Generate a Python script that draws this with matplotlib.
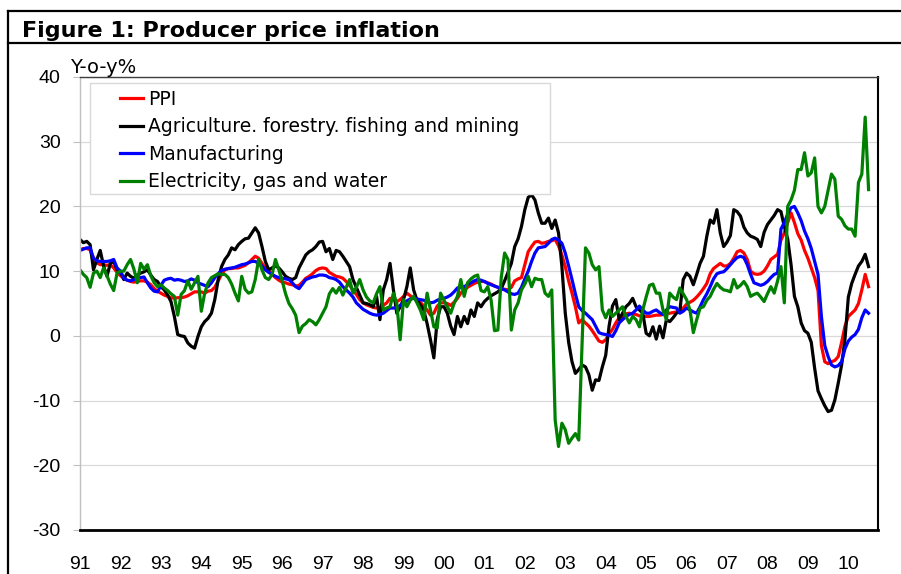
import numpy as np
import matplotlib
matplotlib.use("Agg")
import matplotlib.pyplot as plt
from matplotlib.lines import Line2D
from matplotlib.patches import Rectangle

plt.rcParams['font.family'] = ['Liberation Sans', 'DejaVu Sans']
plt.rcParams['axes.unicode_minus'] = False

# monthly y-o-y %, Jan 1991 - Jul 2010
ppi = [
    13.3, 13.5, 13.5, 13.3, 12.0, 11.3, 11.0, 11.0, 10.9, 11.0, 10.5, 9.8,
    9.3, 8.9, 8.6, 8.4, 8.3, 8.4, 8.5, 8.5, 8.3, 7.9, 7.3, 6.9,
    6.6, 6.3, 6.1, 5.9, 5.8, 5.9, 5.9, 6.0, 6.2, 6.5, 6.8, 6.8,
    6.8, 6.6, 6.9, 7.0, 7.5, 8.5, 9.5, 10.2, 10.4, 10.4, 10.5, 10.5,
    10.7, 10.9, 11.3, 11.8, 12.3, 12.0, 11.2, 10.5, 10.0, 9.5, 9.0, 8.6,
    8.3, 8.2, 8.0, 7.9, 7.7, 7.8, 8.3, 8.9, 9.2, 9.6, 10.1, 10.4,
    10.5, 10.4, 9.8, 9.5, 9.2, 9.1, 8.9, 8.4, 7.8, 7.1, 6.4, 5.6,
    5.1, 4.8, 4.6, 4.4, 4.3, 4.3, 4.7, 5.1, 5.8, 5.6, 5.3, 5.6,
    6.1, 6.6, 6.2, 5.8, 5.5, 5.2, 4.6, 4.0, 3.2, 3.5, 4.6, 5.1,
    5.1, 5.0, 4.7, 5.2, 5.8, 6.6, 7.1, 7.5, 7.8, 8.1, 8.3, 8.4,
    8.4, 8.2, 8.0, 7.7, 7.5, 7.3, 7.2, 7.1, 7.5, 8.5, 8.8, 9.0,
    11.0, 13.0, 13.8, 14.5, 14.6, 14.3, 14.4, 14.6, 14.7, 14.9, 13.9, 12.5,
    10.7, 8.5, 6.6, 4.5, 2.0, 2.5, 2.0, 1.5, 0.8, 0.0, -0.8, -1.0,
    -0.6, 0.3, 1.0, 2.0, 2.8, 3.0, 3.4, 3.5, 3.4, 3.3, 3.1, 3.0,
    3.0, 3.0, 3.1, 3.2, 3.2, 3.3, 3.4, 3.5, 3.6, 3.7, 3.8, 4.3,
    4.9, 5.2, 5.5, 6.0, 6.6, 7.3, 8.1, 9.6, 10.4, 10.8, 11.2, 10.8,
    10.8, 11.2, 12.0, 13.0, 13.2, 12.8, 11.8, 10.0, 9.6, 9.5, 9.6, 10.0,
    10.8, 11.8, 12.2, 12.6, 14.8, 15.9, 17.5, 19.0, 17.5, 15.8, 14.8, 13.2,
    12.0, 10.5, 9.0, 7.0, -1.5, -4.0, -4.3, -4.0, -3.8, -3.2, -1.0, 1.5,
    3.0, 3.5, 4.0, 5.0, 7.1, 9.5, 7.6,
]

agri = [
    14.9, 14.4, 14.6, 14.1, 10.2, 11.8, 13.2, 10.8, 9.2, 11.2, 11.5, 10.2,
    9.9, 8.7, 9.7, 9.2, 8.9, 9.4, 9.7, 9.9, 10.2, 9.4, 8.7, 8.4,
    7.6, 7.1, 6.3, 5.3, 3.0, 0.2, 0.0, -0.1, -1.1, -1.6, -1.9, -0.1,
    1.4, 2.2, 2.7, 3.5, 5.6, 8.7, 10.7, 11.8, 12.5, 13.6, 13.3, 14.1,
    14.6, 15.0, 15.1, 15.9, 16.7, 15.9, 13.8, 11.5, 10.2, 10.5, 10.8, 10.5,
    9.9, 9.2, 8.9, 8.7, 9.0, 10.5, 11.5, 12.5, 13.0, 13.3, 13.8, 14.5,
    14.6, 13.0, 13.5, 11.8, 13.2, 13.0, 12.3, 11.5, 10.7, 8.7, 7.5, 6.3,
    5.1, 5.0, 4.8, 4.5, 6.1, 2.5, 7.1, 8.7, 11.2, 7.1, 3.5, 4.5,
    5.6, 7.6, 10.5, 7.1, 5.5, 4.8, 4.0, 1.9, -0.6, -3.4, 2.5, 4.5,
    4.5, 3.5, 1.5, 0.2, 3.0, 1.4, 3.0, 1.9, 4.0, 3.0, 5.1, 4.5,
    5.3, 5.8, 6.2, 6.5, 6.8, 7.3, 8.5, 9.8, 11.2, 13.8, 15.0, 16.9,
    19.5, 21.4, 21.8, 21.0, 19.0, 17.4, 17.4, 18.2, 16.6, 17.9, 15.9, 10.7,
    3.5, -1.0, -4.0, -5.8, -5.2, -4.5, -4.8, -6.0, -8.4, -6.8, -6.9, -4.8,
    -3.0, 1.5, 4.6, 5.6, 2.5, 3.5, 4.5, 5.0, 5.8, 4.5, 4.0, 3.5,
    0.4, 0.0, 1.4, -0.5, 1.5, -0.3, 2.5, 2.2, 2.8, 3.5, 3.8, 8.7,
    9.7, 9.2, 7.9, 9.5, 11.2, 12.3, 15.4, 17.9, 17.4, 19.5, 15.9, 13.8,
    14.5, 15.5, 19.5, 19.2, 18.5, 16.8, 15.9, 15.4, 15.2, 14.9, 13.8, 16.0,
    17.2, 17.9, 18.6, 19.5, 19.2, 16.9, 15.0, 11.0, 6.1, 4.5, 2.0, 0.8,
    0.4, -1.0, -5.0, -8.5, -9.7, -10.8, -11.7, -11.5, -9.9, -7.3, -4.5, -0.5,
    6.0, 8.1, 9.5, 10.8, 11.5, 12.6, 10.7,
]

manuf = [
    13.2, 13.4, 13.6, 13.6, 12.0, 11.6, 11.5, 11.5, 11.5, 11.6, 11.8, 10.5,
    10.0, 8.9, 8.6, 8.5, 8.7, 8.9, 9.0, 9.1, 8.2, 7.4, 6.9, 6.8,
    7.8, 8.6, 8.8, 8.9, 8.6, 8.7, 8.6, 8.4, 8.5, 8.8, 8.6, 8.2,
    8.0, 7.8, 7.6, 8.2, 9.0, 9.6, 10.1, 10.3, 10.4, 10.5, 10.6, 10.8,
    11.0, 11.1, 11.3, 11.5, 11.5, 11.2, 10.8, 10.2, 9.8, 9.5, 9.2, 9.0,
    8.9, 8.8, 8.7, 8.2, 7.6, 7.3, 8.0, 8.7, 8.9, 9.1, 9.2, 9.4,
    9.4, 9.3, 9.0, 8.9, 8.7, 8.3, 7.6, 7.1, 6.6, 6.0, 5.1, 4.6,
    4.1, 3.8, 3.5, 3.3, 3.2, 3.3, 3.5, 3.9, 4.3, 4.3, 4.3, 4.7,
    5.1, 5.4, 5.7, 5.8, 5.7, 5.6, 5.5, 5.3, 5.1, 5.2, 5.5, 5.7,
    5.8, 6.0, 6.3, 6.8, 7.4, 7.5, 7.6, 7.9, 8.2, 8.5, 8.7, 8.6,
    8.4, 8.1, 7.9, 7.7, 7.5, 7.3, 7.1, 6.8, 6.5, 6.4, 6.6, 7.5,
    8.8, 10.0, 11.5, 12.8, 13.6, 13.7, 13.8, 14.3, 14.9, 15.1, 14.8, 14.3,
    12.8, 10.8, 8.7, 6.5, 4.5, 3.9, 3.5, 3.0, 2.5, 1.5, 0.5, 0.3,
    0.2, 0.1, -0.1, 0.8, 2.0, 2.5, 3.0, 3.3, 3.5, 4.0, 4.6, 4.0,
    3.5, 3.5, 3.8, 4.0, 3.6, 3.3, 4.0, 4.5, 4.4, 4.3, 3.5, 3.8,
    4.3, 4.0, 3.7, 3.5, 4.5, 5.6, 6.5, 7.6, 8.8, 9.6, 9.8, 9.9,
    10.4, 11.0, 11.6, 12.1, 12.3, 12.1, 11.0, 9.5, 8.2, 8.0, 7.8, 8.0,
    8.4, 9.0, 9.5, 9.7, 16.5, 17.5, 18.8, 19.8, 20.0, 19.0, 17.8, 16.2,
    15.0, 13.5, 11.5, 9.5, 3.0, -1.5, -3.2, -4.5, -4.8, -4.6, -4.0, -2.0,
    -0.8, -0.2, 0.2, 1.0, 2.8, 4.0, 3.5,
]

elec = [
    10.2, 9.5, 9.0, 7.5, 9.7, 10.0, 9.0, 10.5, 9.3, 8.0, 7.0, 9.7,
    10.0, 10.0, 11.0, 11.8, 10.3, 8.2, 11.2, 10.3, 11.0, 9.3, 8.2, 7.6,
    7.9, 7.4, 7.0, 6.5, 6.1, 3.2, 6.4, 7.0, 8.5, 7.2, 8.2, 9.2,
    3.8, 6.6, 8.2, 9.0, 9.3, 9.6, 9.5, 9.5, 9.0, 8.0, 6.6, 5.4,
    9.2, 7.2, 6.6, 6.8, 8.7, 11.8, 10.2, 9.0, 8.7, 9.5, 11.8, 10.2,
    8.5, 6.5, 5.0, 4.2, 3.2, 0.5, 1.5, 1.9, 2.5, 2.2, 1.7, 2.5,
    3.5, 4.5, 6.5, 7.3, 6.6, 7.5, 6.3, 7.5, 8.7, 6.6, 7.5, 8.7,
    7.1, 6.0, 5.4, 5.1, 6.5, 7.6, 4.0, 4.3, 4.5, 6.6, 5.0, -0.6,
    5.6, 4.5, 5.5, 6.1, 5.1, 4.0, 2.5, 6.6, 4.0, 1.4, 1.2, 6.6,
    5.5, 4.5, 3.5, 5.0, 6.1, 8.7, 6.1, 8.2, 8.8, 9.2, 9.4, 7.0,
    6.8, 7.6, 5.5, 0.8, 0.9, 9.0, 12.8, 11.8, 0.9, 4.0, 5.1, 7.1,
    8.0, 9.2, 7.6, 8.9, 8.7, 8.7, 6.6, 6.1, 7.1, -13.0, -17.1, -13.5,
    -14.5, -16.6, -15.8, -15.1, -16.1, -1.0, 13.6, 12.8, 11.0, 10.2, 10.7, 4.0,
    2.8, 4.0, 3.0, 3.5, 4.0, 4.5, 3.0, 2.0, 3.0, 2.5, 1.4, 4.0,
    6.0, 7.8, 8.0, 6.6, 6.6, 4.0, 2.5, 6.6, 6.0, 5.6, 7.4, 6.5,
    5.6, 4.0, 0.5, 2.5, 4.3, 4.5, 5.5, 6.1, 7.2, 8.1, 7.5, 7.1,
    7.0, 6.8, 8.7, 7.4, 7.8, 8.4, 7.6, 6.1, 6.4, 6.6, 6.0, 5.3,
    6.5, 7.6, 6.6, 8.5, 10.7, 5.1, 20.0, 21.0, 22.5, 25.7, 25.7, 28.3,
    24.7, 25.2, 27.5, 20.0, 19.0, 20.0, 22.5, 25.0, 24.2, 18.5, 18.0, 17.0,
    16.5, 16.5, 15.4, 23.7, 25.0, 33.8, 22.6,
]

year_labels = ['91', '92', '93', '94', '95', '96', '97', '98', '99', '00',
               '01', '02', '03', '04', '05', '06', '07', '08', '09', '10']

series = [
    ('PPI', ppi, '#ff0000'),
    ('Agriculture. forestry. fishing and mining', agri, '#000000'),
    ('Manufacturing', manuf, '#0000ff'),
    ('Electricity, gas and water', elec, '#008000'),
]

wide = ['DejaVu Sans']   # title/legend in the source are drawn wider than Arial

fig = plt.figure(figsize=(9.01, 5.74), dpi=100)
ax = fig.add_axes([80 / 901, 1 - 530 / 574, 798 / 901, 453 / 574])

for name, vals, col in series:
    ax.plot(np.arange(len(vals)), vals, color=col, lw=2.3, label=name,
            solid_joinstyle='round')

ax.set_xlim(0, 236.8)
ax.set_ylim(-30, 40)
ax.set_yticks(range(-30, 41, 10))
ax.set_yticklabels([str(v) for v in range(-30, 41, 10)])
ax.set_xticks(np.arange(len(year_labels)) * 12)
ax.set_xticklabels(year_labels)
ax.tick_params(axis='x', length=0, pad=19, labelsize=14)
ax.tick_params(axis='y', length=5, color='#bfbfbf', pad=9, labelsize=14)

ax.set_axisbelow(True)
ax.yaxis.grid(True, color='#d9d9d9', lw=0.9)

ax.spines['left'].set_color('#bfbfbf')
ax.spines['left'].set_linewidth(1.0)
ax.spines['top'].set_color('#404040')
ax.spines['top'].set_linewidth(1.0)
ax.spines['right'].set_color('black')
ax.spines['right'].set_linewidth(1.5)
ax.spines['bottom'].set_color('black')
ax.spines['bottom'].set_linewidth(2.0)

# legend box drawn by hand, entries without frame
ax.add_patch(Rectangle((10 / 798, (530 - 194) / 453), 460 / 798, 111 / 453,
                       transform=ax.transAxes, facecolor='white',
                       edgecolor='#d9d9d9', lw=1, zorder=3))
leg = ax.legend(loc='upper left', bbox_to_anchor=(40 / 798, (530 - 90) / 453),
                frameon=False, prop={'family': wide, 'size': 13.5},
                handlelength=1.25, handletextpad=0.25, labelspacing=0.45,
                borderpad=0, borderaxespad=0)
leg.set_zorder(4)

fig.text(22 / 901, 1 - 37 / 574, 'Figure 1: Producer price inflation',
         fontsize=16, fontweight='bold', family=wide, va='baseline')
fig.text(70 / 901, 1 - 73 / 574, 'Y-o-y%', fontsize=14, family=wide,
         va='baseline')

# frame around the figure
fig.add_artist(Line2D([8 / 901, 1], [1 - 11 / 574] * 2, color='black', lw=1.6))
fig.add_artist(Line2D([8 / 901, 1], [1 - 43 / 574] * 2, color='black', lw=1.6))
fig.add_artist(Line2D([8 / 901] * 2, [0, 1 - 11 / 574], color='black', lw=1.6))

fig.savefig('out.png', dpi=100)
